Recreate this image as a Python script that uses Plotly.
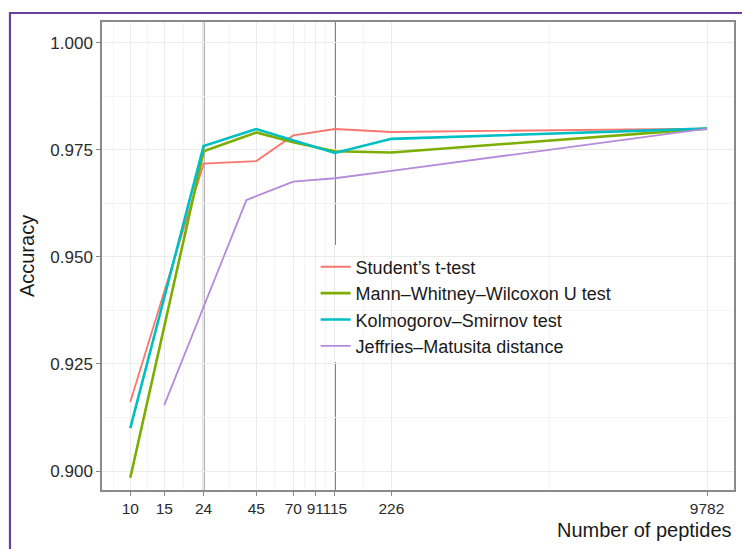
import plotly.graph_objects as go
import math

# ---- data ----
x_ticks = [10, 15, 24, 45, 70, 91, 115, 226, 9782]
x_common = [10, 24, 45, 70, 115, 226, 9782]
student = [0.9161, 0.9718, 0.9724, 0.9784, 0.9799, 0.9792, 0.9800]
mww = [0.8984, 0.9747, 0.9791, 0.9768, 0.9747, 0.9744, 0.9800]
ks = [0.9100, 0.9759, 0.9799, 0.9772, 0.9743, 0.9776, 0.9800]
x_jm = [15, 40, 70, 115, 226, 9782]
jm = [0.9154, 0.9633, 0.9676, 0.9684, 0.9701, 0.9800]
cutoffs = [24, 115]
y_ticks = [0.900, 0.925, 0.950, 0.975, 1.000]

names = ["Student\u2019s t-test", "Mann\u2013Whitney\u2013Wilcoxon U test",
         "Kolmogorov\u2013Smirnov test", "Jeffries\u2013Matusita distance"]
colors = ["#F8766D", "#7CAE00", "#00BFC4", "#B58BDB"]
widths = [1.8, 2.6, 2.6, 1.8]

lt = [math.log10(v) for v in x_ticks]
x_minor = [10 ** ((a + b) / 2) for a, b in zip(lt[:-1], lt[1:])]
x_minor = [10 ** (lt[0] - (lt[1] - lt[0]) / 2)] + x_minor
y_minor = [(a + b) / 2 for a, b in zip(y_ticks[:-1], y_ticks[1:])]
y_minor = [y_ticks[0] - 0.0125] + y_minor + [y_ticks[-1] + 0.0125]

series = [(x_common, student), (x_common, mww), (x_common, ks), (x_jm, jm)]

fig = go.Figure()
for (xs, ys), n, c, w in zip(series, names, colors, widths):
    fig.add_trace(go.Scatter(x=xs, y=ys, mode="lines", name=n,
                             line=dict(color=c, width=w)))

shapes = []
for cx in cutoffs:
    shapes.append(dict(type="line", xref="x", yref="paper", x0=cx, x1=cx,
                       y0=0, y1=1, line=dict(color="#333333", width=1.5),
                       layer="between"))
# legend background (white box)
shapes.append(dict(type="rect", xref="paper", yref="paper",
                   x0=0.351, x1=0.984, y0=0.2735, y1=0.5235,
                   fillcolor="white", line=dict(width=0), layer="between"))
# outer purple frame
shapes.append(dict(type="rect", xref="paper", yref="paper",
                   x0=-0.1456, x1=1.03, y0=-0.16, y1=1.0192,
                   fillcolor="rgba(0,0,0,0)",
                   line=dict(color="#6A3FA0", width=2.2), layer="above"))

fig.update_layout(
    width=742, height=549,
    margin=dict(l=102, r=8, t=22, b=59, autoexpand=False),
    paper_bgcolor="white", plot_bgcolor="white",
    font=dict(family="Liberation Sans, Arial, sans-serif", color="#222222"),
    shapes=shapes,
    showlegend=True,
    legend=dict(x=0.338, y=0.392, xanchor="left", yanchor="middle",
                bgcolor="rgba(0,0,0,0)", font=dict(size=18, color="#1a1a1a"),
                itemwidth=30),
    annotations=[dict(text="Number of peptides", xref="paper", yref="paper",
                      x=1.0, y=-0.058, xanchor="right", yanchor="top",
                      showarrow=False, font=dict(size=20, color="#1a1a1a"))],
)

fig.update_xaxes(type="log", range=[0.8533, 4.1303],
                 tickmode="array", tickvals=x_ticks,
                 ticktext=[str(v) for v in x_ticks], tickangle=0,
                 automargin=False,
                 tickfont=dict(size=15.5, color="#2b2b2b"),
                 ticks="outside", ticklen=4, tickcolor="#888888",
                 showline=True, mirror=True, linecolor="#8a8a8a", linewidth=1.5,
                 showgrid=True, gridcolor="#ebebeb", gridwidth=1,
                 zeroline=False,
                 minor=dict(tickmode="array", tickvals=x_minor, showgrid=True,
                            gridcolor="#f4f4f4", gridwidth=1, ticks=""))
fig.update_yaxes(range=[0.89556, 1.0049],
                 tickmode="array", tickvals=y_ticks,
                 ticktext=[f"{v:.3f}" for v in y_ticks],
                 automargin=False,
                 tickfont=dict(size=17, color="#2b2b2b"),
                 ticks="outside", ticklen=4, tickcolor="#888888",
                 showline=True, mirror=True, linecolor="#8a8a8a", linewidth=1.5,
                 showgrid=True, gridcolor="#ebebeb", gridwidth=1,
                 zeroline=False,
                 title=dict(text="Accuracy", font=dict(size=20, color="#1a1a1a"),
                            standoff=10),
                 minor=dict(tickmode="array", tickvals=y_minor, showgrid=True,
                            gridcolor="#f4f4f4", gridwidth=1, ticks=""))

fig.write_html("out.html", config={"displayModeBar": False},
               post_script="document.body.style.margin='0px';")
